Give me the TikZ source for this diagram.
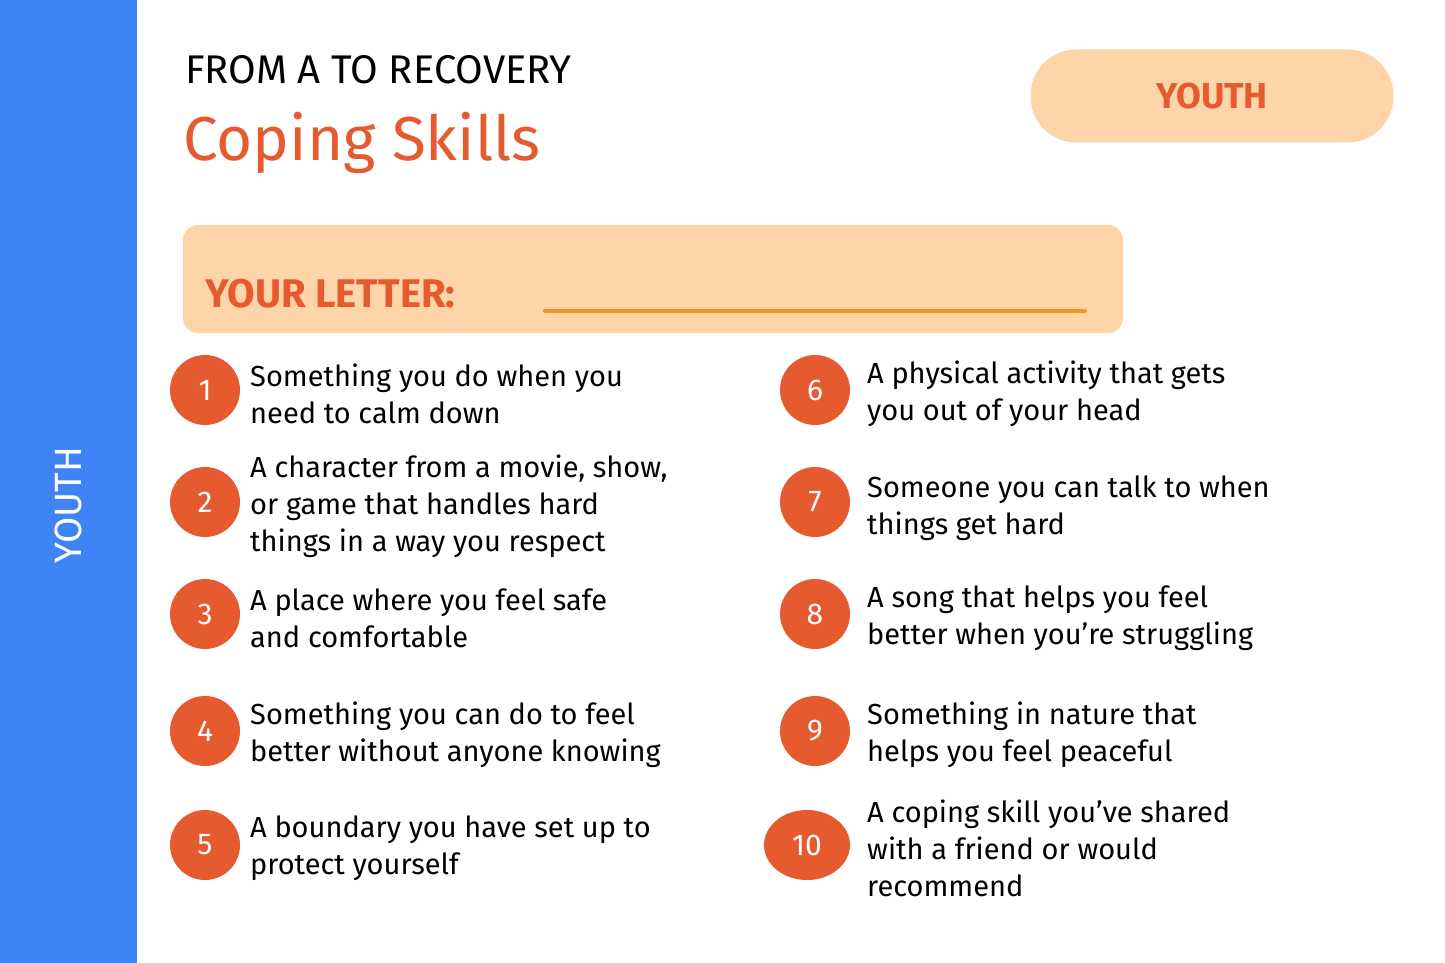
\documentclass[tikz,border=0pt]{standalone}
\usepackage{fontspec}
\setmainfont{Fira Sans}
\usepackage{tikz}
\usetikzlibrary{positioning,shapes.geometric}
\definecolor{bandblue}{HTML}{3F84F5}
\definecolor{peach}{HTML}{FDD5A8}
\definecolor{rust}{HTML}{E65A30}
\definecolor{lineorange}{HTML}{F7931E}
\tikzset{
  Nummer/.style={circle,fill=rust,text=white,minimum size=70pt,inner sep=0pt,font=\fontsize{30}{30}\selectfont},
  Frage/.style={anchor=west,align=left,font=\fontsize{29}{37}\selectfont,inner sep=0pt}
}
\begin{document}
\begin{tikzpicture}[x=1pt,y=-1pt]
\useasboundingbox (0,0) rectangle (1445,963);
%Rahmen
\fill[white] (0,0) rectangle (1445,963);
\fill[bandblue] (0,0) rectangle (137,963);
\node[rotate=90,text=white,font=\fontsize{38}{38}\selectfont] (band) at (68,505) {YOUTH};
%Titel
\node[anchor=west,inner sep=0pt,font=\fontsize{40}{40}\selectfont] (obertitel) at (185,70) {FROM A TO RECOVERY};
\node[anchor=west,inner sep=0pt,text=rust,font=\fontsize{62}{62}\selectfont] (titel) at (183,143) {Coping Skills};
\node[fill=peach,rounded corners=46pt,minimum width=363pt,minimum height=93pt,text=rust,font=\bfseries\fontsize{36}{36}\selectfont] (gruppe) at (1212,96) {YOUTH};
%Buchstabe
\node[fill=peach,rounded corners=15pt,minimum width=940pt,minimum height=108pt] (feld) at (653,279) {};
\node[anchor=west,inner sep=0pt,text=rust,font=\bfseries\fontsize{40}{40}\selectfont] (brief) at (205,294) {YOUR LETTER:};
\coordinate (linieA) at (545,311);
\coordinate (linieB) at (1085,311);
\draw[lineorange,line width=4pt,line cap=round] (linieA) -- (linieB);
%Nummern
\foreach \n/\y in {1/390,2/502,3/614,4/731,5/845}
  \node[Nummer] (N\n) at (205,\y) {\n};
\foreach \n/\y in {6/390,7/502,8/614,9/731}
  \node[Nummer] (N\n) at (815,\y) {\n};
\node[Nummer,ellipse,minimum width=86pt,minimum height=70pt] (N10) at (807,845) {10};
%Fragen
\node[Frage] (F1) at (250,394) {Something you do when you\\need to calm down};
\node[Frage] (F2) at (250,506) {A character from a movie, show,\\or game that handles hard\\things in a way you respect};
\node[Frage] (F3) at (250,618) {A place where you feel safe\\and comfortable};
\node[Frage] (F4) at (250,735) {Something you can do to feel\\better without anyone knowing};
\node[Frage] (F5) at (250,848) {A boundary you have set up to\\protect yourself};
\node[Frage] (F6) at (867,394) {A physical activity that gets\\you out of your head};
\node[Frage] (F7) at (867,508) {Someone you can talk to when\\things get hard};
\node[Frage] (F8) at (867,618) {A song that helps you feel\\better when you’re struggling};
\node[Frage] (F9) at (867,735) {Something in nature that\\helps you feel peaceful};
\node[Frage] (F10) at (867,848) {A coping skill you’ve shared\\with a friend or would\\recommend};
\end{tikzpicture}
\end{document}
